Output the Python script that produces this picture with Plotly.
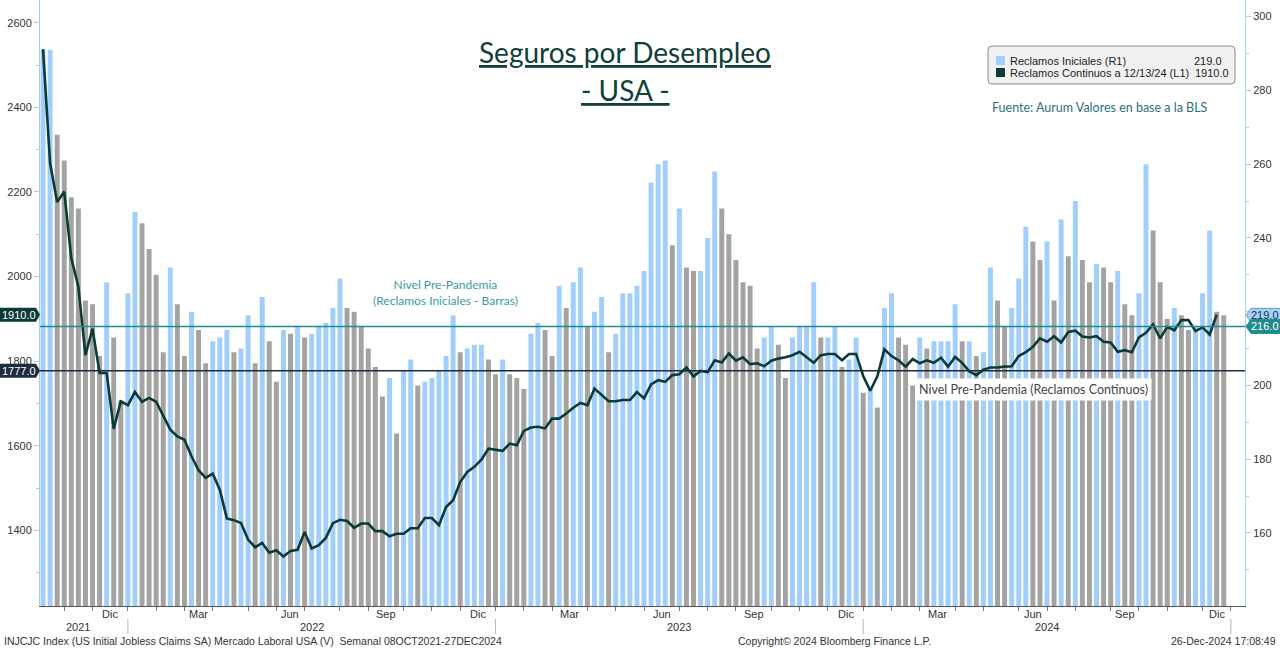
import pandas as pd
import plotly.graph_objects as go

# ---------------- DATA ----------------
start_date = "2021-10-08"          # first weekly observation (Friday)
end_date = "2024-12-27"            # last week on the time axis

# Initial jobless claims SA, thousands (right axis, bars)
initial_claims = [291, 291, 268, 261, 251, 248, 223, 222, 208, 228,
                  213, 196, 225, 247, 244, 237, 230, 209, 232, 222,
                  208, 220, 215, 206, 212, 213, 215, 209, 210, 219,
                  206, 224, 212, 201, 215, 214, 216, 213, 214, 216,
                  217, 221, 229, 221, 220, 216, 210, 205, 197, 202,
                  187, 204, 207, 200, 201, 202, 204, 208, 219, 209,
                  210, 211, 211, 207, 203, 207, 203, 202, 199, 214,
                  217, 215, 208, 227, 221, 228, 232, 216, 220, 224,
                  209, 214, 225, 225, 227, 231, 255, 260, 261, 238,
                  248, 232, 231, 231, 240, 258, 248, 241, 234, 228,
                  227, 210, 213, 216, 211, 202, 213, 216, 216, 228,
                  213, 213, 216, 205, 207, 213, 198, 199, 194, 221,
                  225, 213, 211, 200, 213, 210, 212, 212, 212, 222,
                  212, 212, 208, 209, 232, 223, 216, 221, 229, 243,
                  239, 234, 239, 223, 245, 235, 250, 234, 228, 233,
                  232, 228, 231, 222, 219, 225, 260, 242, 228, 218,
                  221, 219, 215, 216, 225, 242, 220, 219]

# Continuing claims, thousands (left axis, line)
continuing_claims = [2538, 2268, 2176, 2201, 2043, 1976, 1814, 1877, 1772, 1772,
                     1640, 1705, 1696, 1727, 1704, 1713, 1704, 1672, 1638, 1622,
                     1614, 1575, 1542, 1524, 1534, 1496, 1428, 1424, 1417, 1378,
                     1360, 1370, 1347, 1353, 1338, 1351, 1354, 1396, 1357, 1365,
                     1382, 1417, 1425, 1422, 1406, 1416, 1416, 1398, 1398, 1386,
                     1392, 1392, 1405, 1405, 1429, 1429, 1412, 1455, 1471, 1514,
                     1538, 1550, 1567, 1593, 1591, 1588, 1605, 1601, 1635, 1643,
                     1645, 1641, 1664, 1664, 1676, 1690, 1701, 1696, 1735, 1720,
                     1705, 1705, 1708, 1708, 1727, 1712, 1745, 1755, 1751, 1767,
                     1769, 1785, 1764, 1777, 1774, 1802, 1797, 1818, 1801, 1809,
                     1793, 1795, 1788, 1801, 1806, 1809, 1814, 1822, 1809, 1796,
                     1814, 1817, 1817, 1802, 1817, 1817, 1765, 1730, 1764, 1828,
                     1812, 1802, 1787, 1805, 1795, 1802, 1796, 1808, 1787, 1810,
                     1796, 1776, 1767, 1780, 1785, 1785, 1787, 1788, 1812, 1821,
                     1834, 1854, 1846, 1859, 1844, 1869, 1872, 1858, 1856, 1859,
                     1846, 1844, 1822, 1826, 1821, 1856, 1867, 1887, 1854, 1881,
                     1873, 1897, 1897, 1871, 1880, 1863, 1910]

pre_pandemic_initial = 216.0
pre_pandemic_continuing = 1777.0
last_initial = 219.0
last_continuing = 1910.0

month_names = {12: "Dic", 3: "Mar", 6: "Jun", 9: "Sep"}
right_ticks = [160, 180, 200, 220, 240, 260, 280, 300]
left_ticks = [1400, 1600, 1800, 2000, 2200, 2400, 2600]

# ---------------- STYLE / GEOMETRY ----------------
W, H = 1280, 648
PL, PR, PT, PB = 40, 1245, 0, 606
R_RANGE = [140.2, 304.5]
L_RANGE = [1221, 2654]
X_RANGE = ["2021-10-05", "2025-01-10"]

BLUE = "#a1cefa"
GRAY = "#a3a3a3"
LINE = "#0b3b36"
AXIS_BLUE = "#a8cdec"
TEAL = "#1f8c8c"
NAVY = "#1b2c3c"
TXT = "#333333"
TICK_FONT = "Liberation Sans"
ROUND_FONT = "Lato"

weeks = pd.date_range(start_date, end_date, freq="7D")
bar_dates = weeks[:len(initial_claims)]
line_dates = weeks[:len(continuing_claims)]

s = pd.Series(weeks)
month_ticks = s.groupby([s.dt.year, s.dt.month]).max().tolist()
label_pos, label_txt = [], []
for prev, cur in zip(month_ticks[:-1], month_ticks[1:]):
    if cur.month in month_names:
        label_pos.append(prev + (cur - prev) / 2)
        label_txt.append(month_names[cur.month])
year_seps = [t for t in month_ticks if t.month == 12]


def px(xp):
    return (xp - PL) / (PR - PL)


def py(yp):
    return 1 - (yp - PT) / (PB - PT)


def ypix_left(v):
    return PB - (v - L_RANGE[0]) / (L_RANGE[1] - L_RANGE[0]) * (PB - PT)


def ypix_right(v):
    return PB - (v - R_RANGE[0]) / (R_RANGE[1] - R_RANGE[0]) * (PB - PT)


def note(x, y, text, font, xanchor="center", **kw):
    return dict(xref="paper", yref="paper", x=x, y=y, text=text, showarrow=False,
                xanchor=xanchor, yanchor="middle", font=font, **kw)


bar_colors = [BLUE if k == 0 or v >= initial_claims[k - 1] else GRAY
              for k, v in enumerate(initial_claims)]

fig = go.Figure()
fig.add_trace(go.Bar(x=bar_dates, y=initial_claims, yaxis="y",
                     marker=dict(color=bar_colors, line=dict(width=0)),
                     name="Reclamos Iniciales (R1)", hoverinfo="skip"))
fig.add_trace(go.Scatter(x=line_dates, y=continuing_claims, yaxis="y2", mode="lines",
                         line=dict(color=LINE, width=2.6),
                         name="Reclamos Continuos", hoverinfo="skip"))

shapes = []
annotations = []

# reference lines
shapes.append(dict(type="line", xref="paper", yref="y", x0=0, x1=1,
                   y0=pre_pandemic_initial, y1=pre_pandemic_initial,
                   line=dict(color=TEAL, width=1.5), layer="above"))
shapes.append(dict(type="line", xref="paper", yref="y2", x0=0, x1=1,
                   y0=pre_pandemic_continuing, y1=pre_pandemic_continuing,
                   line=dict(color=NAVY, width=1.5), layer="above"))

tickfont = dict(family=TICK_FONT, size=11, color=TXT)

# month labels (centred in their month span)
for d, t in zip(label_pos, label_txt):
    annotations.append(dict(xref="x", yref="paper", x=d, y=py(614), text=t, showarrow=False,
                            xanchor="center", yanchor="middle", font=tickfont))

# year separators and labels
for d in year_seps:
    shapes.append(dict(type="line", xref="x", yref="paper", x0=d, x1=d,
                       y0=py(619), y1=py(634), line=dict(color="#b5b5b5", width=1)))
year_bounds = [pd.Timestamp("2021-09-24")] + year_seps
for a, b in zip(year_bounds[:-1], year_bounds[1:]):
    annotations.append(dict(xref="x", yref="paper", x=a + (b - a) / 2, y=py(627),
                            text=str(b.year), showarrow=False, xanchor="center",
                            yanchor="middle", font=tickfont))


# value tags
def left_tag(value, text, fill):
    yc = ypix_left(value)
    path = (f"M {px(0)},{py(yc-7)} L {px(36)},{py(yc-7)} L {px(40)},{py(yc)} "
            f"L {px(36)},{py(yc+7)} L {px(0)},{py(yc+7)} Z")
    shapes.append(dict(type="path", xref="paper", yref="paper", path=path,
                       fillcolor=fill, line=dict(width=0), layer="above"))
    annotations.append(note(px(18.5), py(yc), text,
                            dict(family=TICK_FONT, size=11, color="white")))


def right_tag(value, text, fill, color, border):
    yc = ypix_right(value)
    path = (f"M {px(1246)},{py(yc)} L {px(1251)},{py(yc-7)} L {px(1281)},{py(yc-7)} "
            f"L {px(1281)},{py(yc+7)} L {px(1251)},{py(yc+7)} Z")
    shapes.append(dict(type="path", xref="paper", yref="paper", path=path,
                       fillcolor=fill, line=dict(width=1, color=border), layer="above"))
    annotations.append(note(px(1265), py(yc), text,
                            dict(family=TICK_FONT, size=11, color=color)))


left_tag(last_continuing, f"{last_continuing:.1f}", LINE)
left_tag(pre_pandemic_continuing, f"{pre_pandemic_continuing:.1f}", NAVY)
right_tag(last_initial, f"{last_initial:.1f}", "#a6d2f7", "#1a2f55", "#6a9cc8")
right_tag(pre_pandemic_initial, f"{pre_pandemic_initial:.1f}", TEAL, "white", TEAL)

# custom legend box
bx0, bx1, by0, by1, r = 988, 1235, 46, 84, 4
legend_path = (f"M {px(bx0+r)},{py(by0)} L {px(bx1-r)},{py(by0)} Q {px(bx1)},{py(by0)} {px(bx1)},{py(by0+r)} "
               f"L {px(bx1)},{py(by1-r)} Q {px(bx1)},{py(by1)} {px(bx1-r)},{py(by1)} "
               f"L {px(bx0+r)},{py(by1)} Q {px(bx0)},{py(by1)} {px(bx0)},{py(by1-r)} "
               f"L {px(bx0)},{py(by0+r)} Q {px(bx0)},{py(by0)} {px(bx0+r)},{py(by0)} Z")
shapes.append(dict(type="path", xref="paper", yref="paper", path=legend_path,
                   fillcolor="#f1f1f1", line=dict(color="#8a8a8a", width=1), layer="above"))
for yc, col in [(60.5, BLUE), (72.5, LINE)]:
    shapes.append(dict(type="rect", xref="paper", yref="paper", x0=px(996), x1=px(1005),
                       y0=py(yc - 4.5), y1=py(yc + 4.5), fillcolor=col, line=dict(width=0), layer="above"))
legend_font = dict(family=TICK_FONT, size=11, color="#1e1e1e")
annotations += [
    note(px(1008), py(60.5), "Reclamos Iniciales (R1)", legend_font, "left"),
    note(px(1008), py(72.5), "Reclamos Continuos a 12/13/24 (L1)", legend_font, "left"),
    note(px(1224), py(60.5), f"{last_initial:.1f}", legend_font, "right"),
    note(px(1231), py(72.5), f"{last_continuing:.1f}", legend_font, "right"),
]

# titles and notes
title_font = dict(family=ROUND_FONT, size=28, color="#10403b")
annotations += [
    note(px(625), py(52), "<u>Seguros por Desempleo</u>", title_font),
    note(px(625), py(90), "<u>- USA -</u>", title_font),
    note(px(990), py(108), "Fuente: Aurum Valores en base a la BLS",
         dict(family=ROUND_FONT, size=12.5, color="#2f6f7c"), "left"),
    note(px(445), py(292), "Nivel Pre-Pandemia<br>(Reclamos Iniciales - Barras)",
         dict(family=ROUND_FONT, size=12, color="#3a9c9c")),
    note(px(1033), py(389), "Nivel Pre-Pandemia (Reclamos Continuos)",
         dict(family=ROUND_FONT, size=12.5, color="#444444"), bgcolor="white", borderpad=3),
]

# footer
foot = dict(family=TICK_FONT, size=10.5, color=TXT)
annotations += [
    note(px(2), py(641), "INJCJC Index (US Initial Jobless Claims SA) Mercado Laboral USA (V)  Semanal 08OCT2021-27DEC2024",
         foot, "left"),
    note(px(834), py(641), "Copyright© 2024 Bloomberg Finance L.P.", foot),
    note(px(1278), py(641), "26-Dec-2024 17:08:49", foot, "right"),
]

fig.update_layout(
    width=W, height=H, margin=dict(l=PL, r=W - PR, t=PT, b=H - PB, autoexpand=False),
    paper_bgcolor="white", plot_bgcolor="white", showlegend=False,
    bargap=0.3,
    xaxis=dict(type="date", range=X_RANGE, showline=True, linecolor="#555555", linewidth=1,
               showgrid=False, zeroline=False, showticklabels=False, automargin=False,
               tickmode="array", tickvals=month_ticks, ticks="outside",
               ticklen=4, tickcolor="#777777", tickwidth=1),
    yaxis=dict(side="right", range=R_RANGE, tickmode="array", tickvals=right_ticks,
               showline=True, linecolor=AXIS_BLUE, linewidth=1, showgrid=False, zeroline=False,
               ticks="outside", ticklen=5, tickcolor=AXIS_BLUE, tickfont=tickfont, automargin=False,
               minor=dict(tickmode="array", tickvals=[t + 10 for t in right_ticks[:-1]] + [150],
                          ticks="outside", ticklen=3, tickcolor=AXIS_BLUE, showgrid=False)),
    yaxis2=dict(overlaying="y", side="left", range=L_RANGE, tickmode="array", tickvals=left_ticks,
                showline=True, linecolor=AXIS_BLUE, linewidth=1, showgrid=False, zeroline=False,
                ticks="outside", ticklen=5, tickcolor=AXIS_BLUE, tickfont=tickfont, automargin=False,
                minor=dict(tickmode="array", tickvals=[t + 100 for t in left_ticks[:-1]] + [1300],
                           ticks="outside", ticklen=3, tickcolor=AXIS_BLUE, showgrid=False)),
    shapes=shapes, annotations=annotations,
)

fig.write_html("out.html", config={"displayModeBar": False},
               post_script="document.body.style.margin='0px';")
